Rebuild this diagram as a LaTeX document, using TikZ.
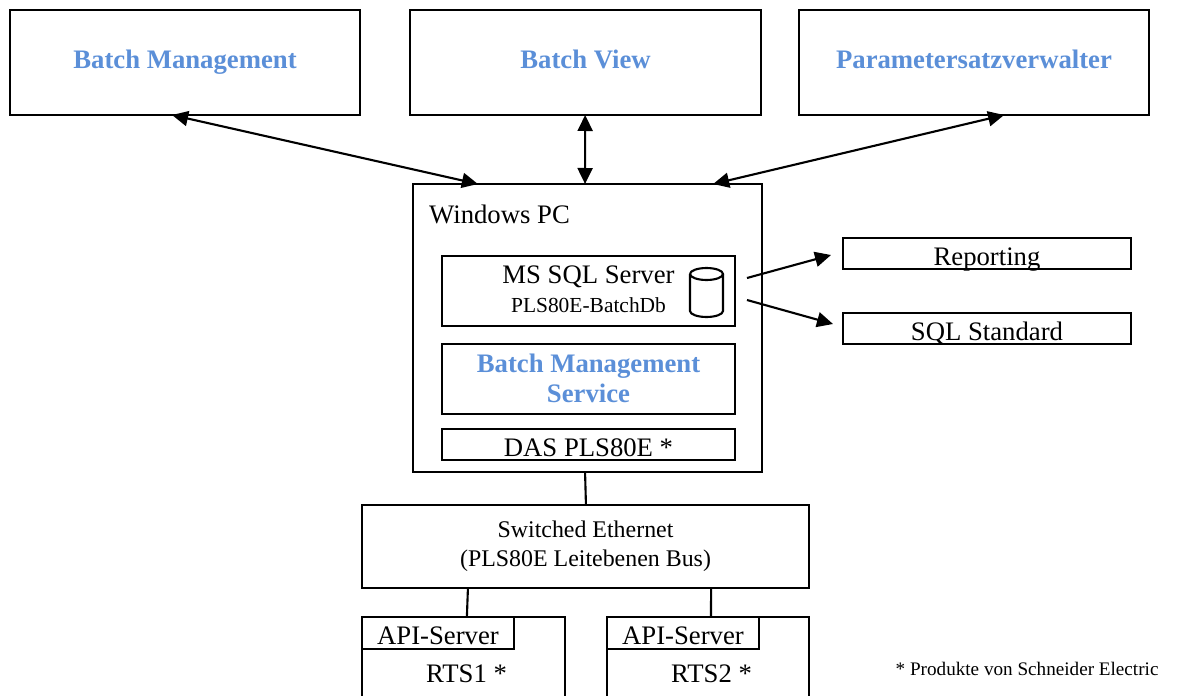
\documentclass[tikz,border=0pt]{standalone}
\usepackage{fontspec}
\setmainfont{Liberation Serif}
\usetikzlibrary{arrows.meta}
\usetikzlibrary{calc}
\definecolor{batchblue}{HTML}{5B8FD8}
\newcommand{\bodyfont}{\fontsize{7.6pt}{8.6pt}\selectfont}
\newcommand{\smallfont}{\fontsize{6.1pt}{7.4pt}\selectfont}
\newcommand{\midfont}{\fontsize{6.8pt}{8.2pt}\selectfont}
\newcommand{\notefont}{\fontsize{5.45pt}{6.6pt}\selectfont}

\begin{document}
\begin{tikzpicture}[
        box/.style={draw=black, line width=0.6pt, fill=white, inner sep=0pt, outer sep=0pt, align=center, font=\bodyfont},
        product/.style={font=\bodyfont\bfseries, text=batchblue},
        toptext/.style={text height=5.2pt, text depth=1.7pt},
        lowtext/.style={text height=7.6pt, text depth=1pt},
        plain/.style={inner sep=0pt, font=\bodyfont},
        link/.style={line width=0.6pt, black},
        arrowlink/.style={link, -{Triangle[length=1.6mm,width=1.5mm]}},
        bothlink/.style={link, {Triangle[length=1.6mm,width=1.5mm]}-{Triangle[length=1.6mm,width=1.5mm]}}
    ]
            \clip (0,0) rectangle (11.89,6.95);

            % Client applications
            \node[box, product, toptext, minimum width=3.5cm, minimum height=1.05cm] (mgmt) at (1.85,6.325) {Batch Management};
            \node[box, product, toptext, minimum width=3.51cm, minimum height=1.05cm] (view) at (5.855,6.325) {Batch View};
            \node[box, product, toptext, minimum width=3.5cm, minimum height=1.05cm] (param) at (9.74,6.325) {Parametersatzverwalter};

            % Windows PC with its inner boxes
            \node[box, minimum width=3.49cm, minimum height=2.88cm] (pc) at (5.875,3.67) {};
            \node[plain, anchor=base west] (pctitle) at (4.285,4.72) {Windows PC};
            \node[box, text depth=1pt, minimum width=2.93cm, minimum height=0.7cm] (sql) at (5.885,4.04) {MS SQL Server\\[-0.3pt]{\smallfont PLS80E-BatchDb}};
            \node[box, product, text depth=0.5pt, minimum width=2.93cm, minimum height=0.7cm] (service) at (5.885,3.16) {Batch Management\\Service};
            \node[box, lowtext, minimum width=2.93cm, minimum height=0.31cm] (das) at (5.885,2.505) {DAS PLS80E *};

            % Database symbol
            \draw[line width=0.6pt] (6.9,4.21) arc (180:-180:0.165 and 0.06);
            \draw[line width=0.6pt] (6.9,4.21) -- (6.9,3.84) arc (180:360:0.165 and 0.06) -- (7.23,4.21);

            % Reporting outputs
            \node[box, lowtext, minimum width=2.88cm, minimum height=0.31cm] (report) at (9.87,4.415) {Reporting};
            \node[box, lowtext, minimum width=2.88cm, minimum height=0.31cm] (standard) at (9.87,3.665) {SQL Standard};
            \coordinate (reportin) at (8.31,4.40);
            \coordinate (standardin) at (8.33,3.71);
            \coordinate (reportout) at (7.47,4.17);
            \coordinate (standardout) at (7.47,3.95);

            % Bus and controllers
            \node[box, font=\midfont, minimum width=4.47cm, minimum height=0.83cm] (ether) at (5.855,1.485) {Switched Ethernet\\(PLS80E Leitebenen Bus)};
            \node[box, anchor=north west, minimum width=2.03cm, minimum height=1.1cm] (rts1) at (3.62,0.78) {};
            \node[box, anchor=north west, minimum width=2.02cm, minimum height=1.1cm] (rts2) at (6.07,0.78) {};
            \node[box, lowtext, anchor=north west, minimum width=1.52cm, minimum height=0.32cm] (api1) at (3.62,0.78) {API-Server};
            \node[box, lowtext, anchor=north west, minimum width=1.52cm, minimum height=0.32cm] (api2) at (6.07,0.78) {API-Server};
            \node[plain] (rtstext1) at (4.665,0.21) {RTS1 *};
            \node[plain] (rtstext2) at (7.115,0.21) {RTS2 *};
            \node[plain, font=\notefont, anchor=west] (note) at (8.95,0.26) {* Produkte von Schneider Electric};

            % Arrows to the applications
            \draw[bothlink] ($(mgmt.south west)!0.463!(mgmt.south east)$) -- ($(pc.north west)!0.186!(pc.north east)$);
            \draw[bothlink] ($(view.south west)!0.499!(view.south east)$) -- ($(pc.north west)!0.493!(pc.north east)$);
            \draw[bothlink] ($(param.south west)!0.586!(param.south east)$) -- ($(pc.north west)!0.860!(pc.north east)$);

            % Arrows out of the database
            \draw[arrowlink] (reportout) -- (reportin);
            \draw[arrowlink] (standardout) -- (standardin);

            % Plain connections
            \draw[link] ($(pc.south west)!0.493!(pc.south east)$) -- ($(ether.north west)!0.501!(ether.north east)$);
            \draw[link] ($(ether.south west)!0.237!(ether.south east)$) -- ($(api1.north west)!0.69!(api1.north east)$);
            \draw[link] ($(ether.south west)!0.781!(ether.south east)$) -- ($(api2.north west)!0.684!(api2.north east)$);
\end{tikzpicture}
\end{document}
